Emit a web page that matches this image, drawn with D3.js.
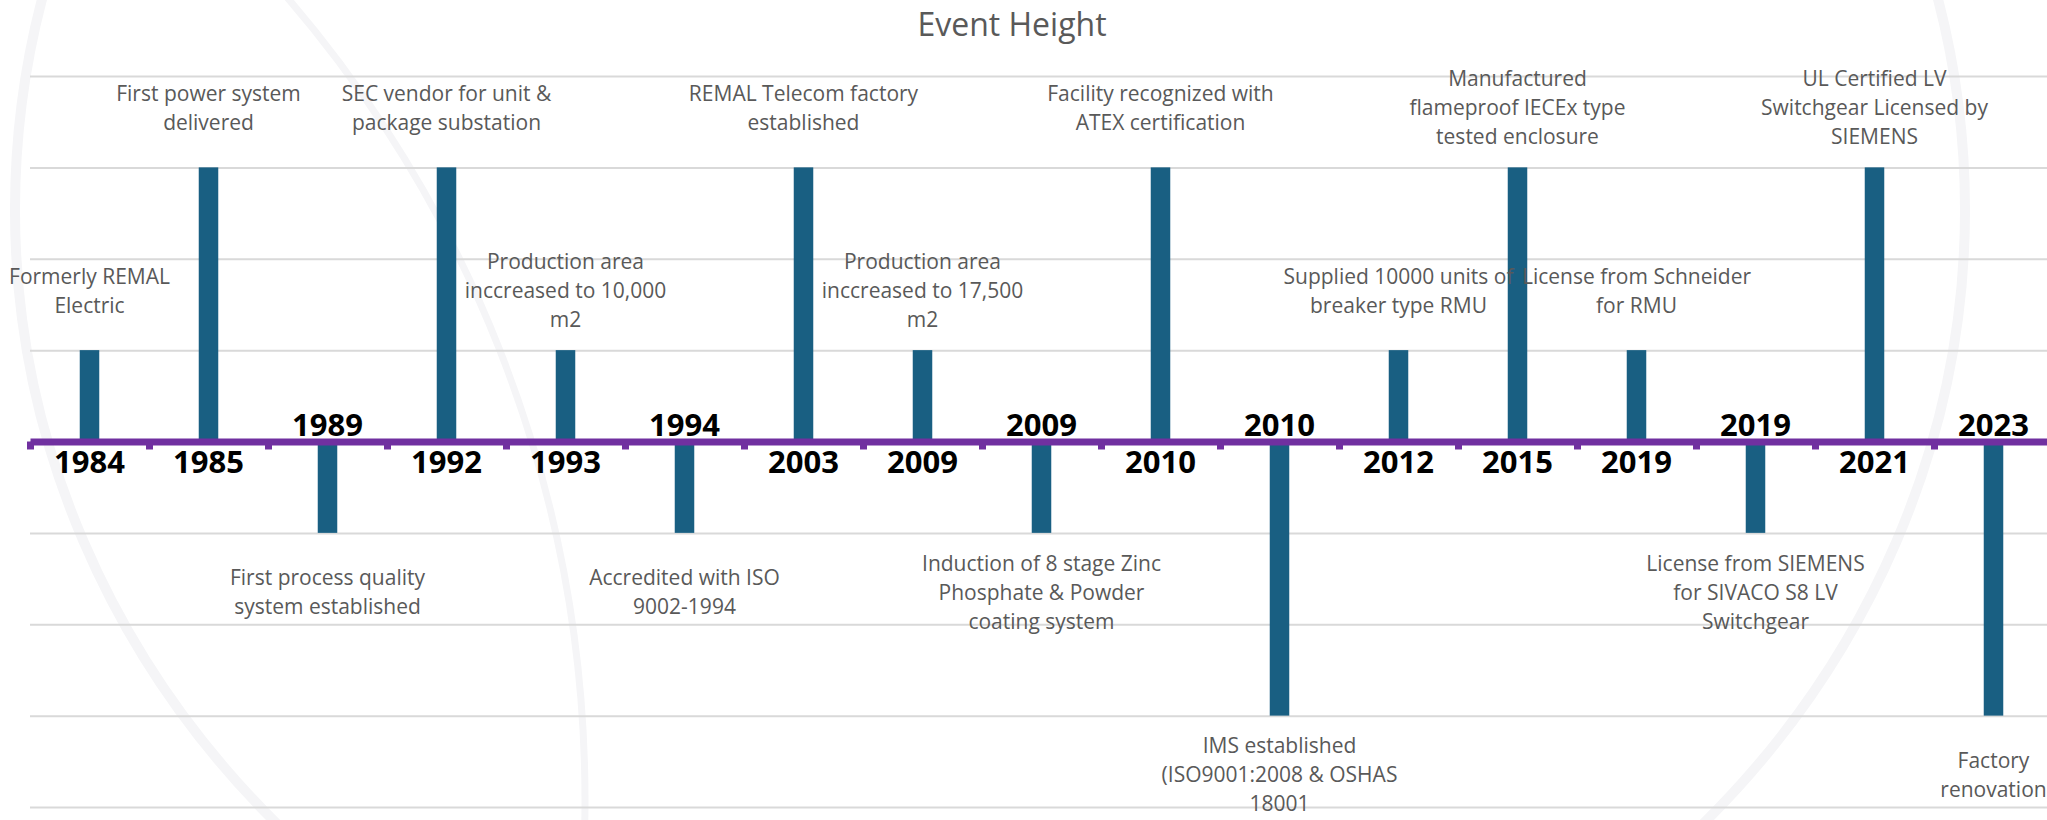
<!DOCTYPE html>
<html>
<head>
<meta charset="utf-8">
<script src="https://cdn.jsdelivr.net/npm/d3@7"></script>
<style>
  body { margin: 0; background: #fff; }
  svg { display: block; }
</style>
</head>
<body>
<svg id="chart"></svg>
<script>
// timeline data: one bar per event, up or down from the axis
const years = ["1984", "1985", "1989", "1992", "1993", "1994", "2003", "2009", "2009",
               "2010", "2010", "2012", "2015", "2019", "2019", "2021", "2023"];
const heights = [1, 3, -1, 3, 1, -1, 3, 1, -1, 3, -3, 1, 3, 1, -1, 3, -3];
const events = [
  "Formerly REMAL\nElectric",
  "First power system\ndelivered",
  "First process quality\nsystem established",
  "SEC vendor for unit &\npackage substation",
  "Production area\ninccreased to 10,000\nm2",
  "Accredited with ISO\n9002-1994",
  "REMAL Telecom factory\nestablished",
  "Production area\ninccreased to 17,500\nm2",
  "Induction of 8 stage Zinc\nPhosphate & Powder\ncoating system",
  "Facility recognized with\nATEX certification",
  "IMS established\n(ISO9001:2008 & OSHAS\n18001",
  "Supplied 10000 units of\nbreaker type RMU",
  "Manufactured\nflameproof IECEx type\ntested enclosure",
  "License from Schneider\nfor RMU",
  "License from SIEMENS\nfor SIVACO S8 LV\nSwitchgear",
  "UL Certified LV\nSwitchgear Licensed by\nSIEMENS",
  "Factory\nrenovation"
];
const yTicks = [-4, -3, -2, -1, 0, 1, 2, 3, 4];
const title = "Event Height";

const width = 2047, height = 820;
const left = 30, step = 119;   // plot runs a little past the right edge
const plotRight = left + step * years.length;

const svg = d3.select("#chart")
  .attr("width", width)
  .attr("height", height)
  .style("font-family", "'Open Sans', sans-serif");

svg.append("rect").attr("width", width).attr("height", height).attr("fill", "#fff");

// faint watermark rings behind the chart
const wm = svg.append("g").attr("fill", "none").attr("stroke", "#f5f5f7").attr("stroke-width", 10);
wm.append("ellipse").attr("cx", 990).attr("cy", 210).attr("rx", 975).attr("ry", 900);
wm.append("circle").attr("cx", -645).attr("cy", 800).attr("r", 1230).attr("stroke-width", 7);

const x = d3.scaleBand()
  .domain(d3.range(years.length))
  .range([left, plotRight])
  .paddingInner(0.836)
  .paddingOuter(0.418);

const y = d3.scaleLinear()
  .domain([-4, 4])
  .range([807, 76]);

// gridlines
svg.append("g")
  .attr("transform", "translate(" + left + ",0)")
  .call(d3.axisLeft(y).tickValues(yTicks).tickSize(-(plotRight - left)).tickFormat(""))
  .call(g => g.select(".domain").remove())
  .call(g => g.selectAll(".tick line").attr("stroke", "#d9d9d9").attr("stroke-width", 2));

// bars
svg.append("g")
  .selectAll("rect")
  .data(heights)
  .enter().append("rect")
  .attr("x", (d, i) => x(i))
  .attr("width", x.bandwidth())
  .attr("y", d => y(Math.max(d, 0)))
  .attr("height", d => Math.abs(y(d) - y(0)))
  .attr("fill", "#195f82");

// purple time axis, ticks on band edges
const edges = d3.scaleLinear().domain([0, years.length]).range([left, plotRight]);
svg.append("g")
  .attr("transform", "translate(0," + y(0) + ")")
  .call(d3.axisBottom(edges).tickValues(d3.range(years.length + 1)).tickSize(8).tickSizeOuter(0).tickFormat(""))
  .call(g => g.select(".domain").attr("stroke", "#7030a0").attr("stroke-width", 7))
  .call(g => g.selectAll(".tick line").attr("stroke", "#7030a0").attr("stroke-width", 7));

// year labels, opposite side of the bar
svg.append("g")
  .selectAll("text")
  .data(years)
  .enter().append("text")
  .attr("x", (d, i) => x(i) + x.bandwidth() / 2)
  .attr("y", (d, i) => heights[i] > 0 ? y(0) + 31 : y(0) - 6)
  .attr("text-anchor", "middle")
  .attr("font-size", 31)
  .attr("font-weight", "bold")
  .attr("fill", "#000")
  .text(d => d);

// event labels beyond the bar end
const lineH = 29;
const ev = svg.append("g")
  .selectAll("text")
  .data(events)
  .enter().append("text")
  .attr("text-anchor", "middle")
  .attr("font-size", 21)
  .attr("fill", "#595959");

ev.each(function(d, i) {
  const lines = d.split("\n");
  const cx = x(i) + x.bandwidth() / 2;
  const v = heights[i];
  const cy = y(v + Math.sign(v) * 0.65);
  d3.select(this).selectAll("tspan")
    .data(lines)
    .enter().append("tspan")
    .attr("x", cx)
    .attr("y", (l, j) => cy + (j - (lines.length - 1) / 2) * lineH)
    .attr("dy", "0.35em")
    .text(l => l);
});

svg.append("text")
  .attr("x", 1012)
  .attr("y", 36)
  .attr("text-anchor", "middle")
  .attr("font-size", 32)
  .attr("fill", "#595959")
  .text(title);
</script>
</body>
</html>
